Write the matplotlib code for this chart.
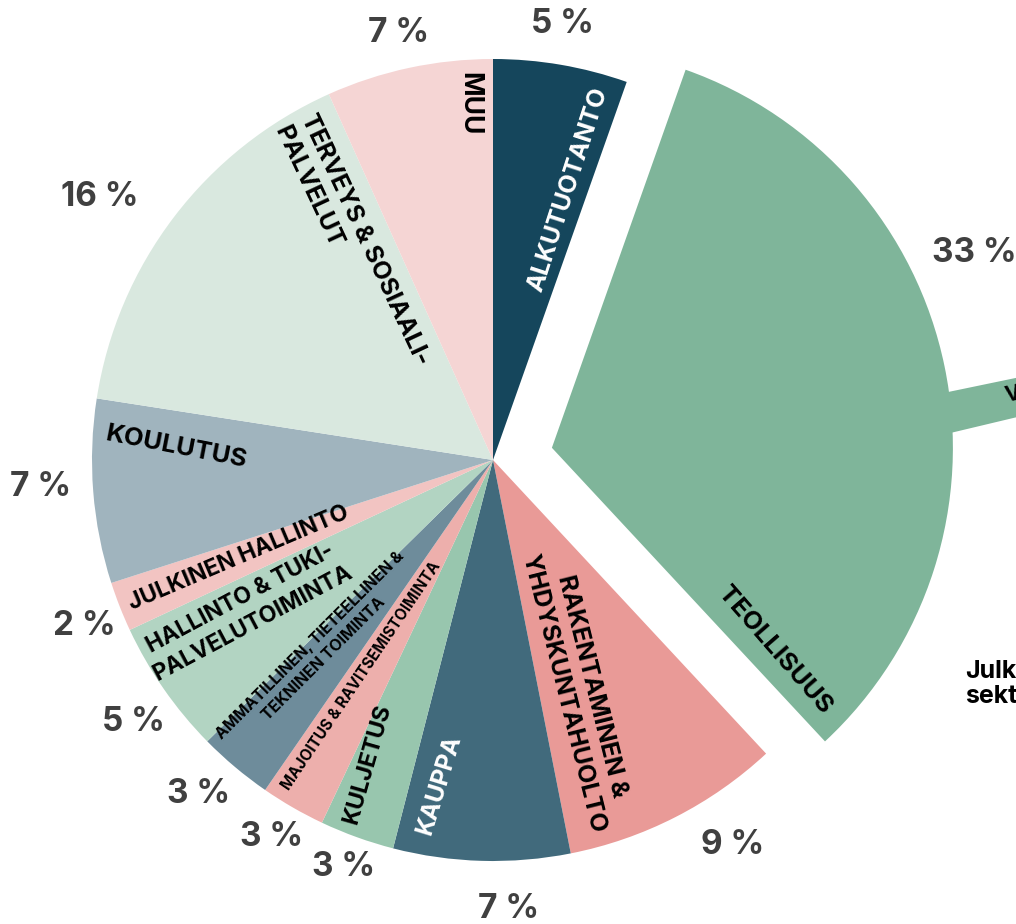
import numpy as np
import matplotlib.pyplot as plt

plt.rcParams['font.family'] = ['Inter', 'DejaVu Sans']

# share of employment by sector, clockwise from 12 o'clock
sectors = [
    "ALKUTUOTANTO",
    "TEOLLISUUS",
    "RAKENTAMINEN &\nYHDYSKUNTAHUOLTO",
    "KAUPPA",
    "KULJETUS",
    "MAJOITUS & RAVITSEMISTOIMINTA",
    "AMMATILLINEN, TIETEELLINEN &\nTEKNINEN TOIMINTA",
    "HALLINTO & TUKI-\nPALVELUTOIMINTA",
    "JULKINEN HALLINTO",
    "KOULUTUS",
    "TERVEYS & SOSIAALI-\nPALVELUT",
    "MUU",
]
shares = [5.4, 32.6, 8.8, 7.1, 3.0, 2.6, 3.0, 5.4, 2.0, 7.4, 15.8, 6.7]
colors = ["#15465c", "#7fb59a", "#e99a97", "#416a7c", "#98c6ae", "#edafac",
          "#6e8c9b", "#b2d4c2", "#f2c4c2", "#a0b4be", "#d9e8df", "#f5d5d4"]
explode = [0, 0.15, 0, 0, 0, 0, 0, 0, 0, 0, 0, 0]   # fraction of radius

# label styling (offsets are clockwise degrees from wedge middle)
lab_off = [5.7, 54, 6.9, 7.8, 2.5, 1.5, 2.5, 3.3, 0.4, 6.8, 19.3, 8.3]
lab_r = [0.70, 0.75, 0.61, 0.82, 0.82, 0.63, 0.65, 0.72, 0.68, 0.79, 0.64, 0.89]
lab_rot = [72, -49, -76, 73, 74, 56, 45, 28, 23, -11, -65, -90]
lab_size = [18, 18.5, 18, 17.5, 17, 11, 11.5, 16.5, 16.5, 18.5, 18, 19]
lab_color = ["white", "black", "black", "white"] + ["black"] * 8
pct_off = [-0.7, -13, -4.8, -3.6, 0.3, 0.5, 1.4, -1.3, -0.6, 1.1, -3.5, -0.4]
pct_r = [1.10, 1.16, 1.13, 1.12, 1.08, 1.09, 1.11, 1.11, 1.10, 1.13, 1.18, 1.09]

W, H = 1016, 924
cx, cy, R = 493, H - 460, 401

fig = plt.figure(figsize=(W / 100, H / 100), dpi=100)
ax = fig.add_axes([0, 0, 1, 1])

wedges, _ = ax.pie(shares, colors=colors, startangle=90, counterclock=False,
                   center=(cx, cy), radius=R, explode=[e * R for e in explode],
                   wedgeprops=dict(linewidth=0))

# connector band running off to the right (second chart is cropped)
band_x = [900, 1030, 1030, 900]
band_y = [H - 402, H - 375, H - 414, H - 445]
ax.fill(band_x, band_y, color=colors[1], lw=0, zorder=0)

for i, w in enumerate(wedges):
    mid = (w.theta1 + w.theta2) / 2
    wx, wy = w.center

    a = np.radians(mid - lab_off[i])
    ax.text(wx + lab_r[i] * R * np.cos(a), wy + lab_r[i] * R * np.sin(a), sectors[i],
            rotation=lab_rot[i], rotation_mode='anchor', ha='center', va='center',
            multialignment='left' if i == 10 else 'center',
            fontsize=lab_size[i], fontweight='bold', color=lab_color[i],
            linespacing=1.35)

    a = np.radians(mid - pct_off[i])
    ax.text(wx + pct_r[i] * R * np.cos(a), wy + pct_r[i] * R * np.sin(a),
            f"{round(shares[i])} %", ha='center', va='center',
            fontsize=24, fontweight='bold', color="#404040")

ax.text(1003, H - 395, "V", rotation=12, ha='left', va='center',
        fontsize=15, fontweight='bold', color='black')
ax.text(965, H - 684, "Julkinen\nsektori", ha='left', va='center',
        fontsize=18, fontweight='bold', color='black', linespacing=1.15)

ax.set_xlim(0, W)
ax.set_ylim(0, H)
ax.set_aspect('equal')
ax.axis('off')
fig.savefig("out.png", dpi=100)
